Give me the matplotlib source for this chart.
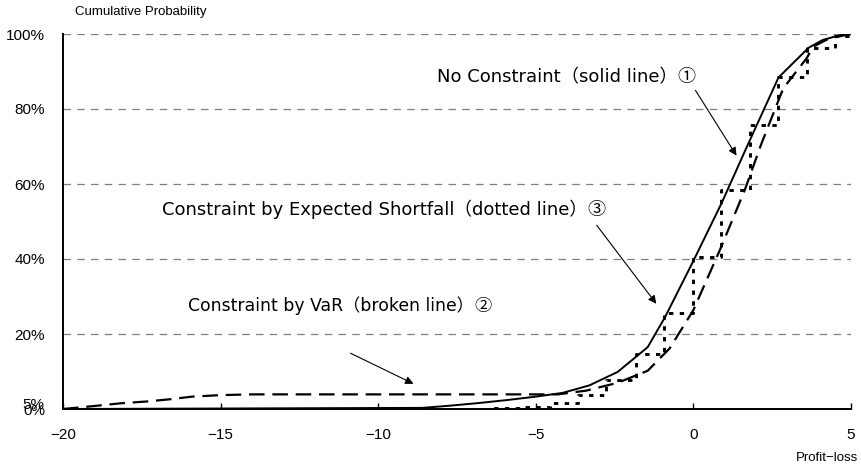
import matplotlib
matplotlib.use("Agg")
import matplotlib.pyplot as plt

plt.rcParams['font.family'] = ['Liberation Sans', 'Noto Sans CJK JP', 'DejaVu Sans']

# --- data ---
# No constraint (solid line)
solid_x = [-20, -8.6, -7.7, -6.8, -5.9, -5.0, -4.15, -3.3, -2.4, -1.45, -0.9, 0.0, 0.9, 1.7, 2.7, 3.65, 4.1, 4.65, 5.0]
solid_y = [0, 0.3, 0.9, 1.6, 2.4, 3.3, 4.3, 6.3, 9.9, 16.5, 24.5, 39.5, 55.0, 70.0, 88.4, 96.3, 98.4, 99.7, 100]

# Constraint by VaR (broken line)
var_x = [-20, -19.0, -18.2, -17.35, -16.6, -15.9, -15.0, -14.0, -4.3, -3.4, -2.4, -1.45, -0.75, 0.0, 0.84, 1.63, 2.16, 2.85, 3.59, 3.8, 4.3, 5.0]
var_y = [0, 0.8, 1.5, 2.0, 2.6, 3.3, 3.7, 3.9, 3.9, 4.9, 7.0, 10.2, 16.2, 26.4, 42.4, 58.4, 70.8, 85.5, 93.5, 96.6, 98.8, 100]

# Constraint by Expected Shortfall (dotted line), step function
es_x = [-20, -6.4, -5.45, -4.56, -3.67, -2.76, -1.83, -0.94, 0.0, 0.89, 1.79, 2.69, 3.6, 4.5, 5.0]
es_y = [0, 0.2, 0.5, 1.7, 3.7, 7.7, 14.8, 25.5, 40.6, 58.4, 75.7, 88.4, 96.3, 99.5, 100]

x_ticks = [-20, -15, -10, -5, 0, 5]
y_ticks = [0, 20, 40, 60, 80, 100]
y_labels = ['0%', '20%', '40%', '60%', '80%', '100%']

label_solid = ['No Constraint', '（solid line）', '①']
label_es = ['Constraint by Expected Shortfall', '（dotted line）', '③']
label_var = ['Constraint by VaR', '（broken line）', '②']

W, H = 862, 469
fig = plt.figure(figsize=(W / 100, H / 100), dpi=100)
ax = fig.add_axes([63 / W, 1 - 409 / H, (851 - 63) / W, (409 - 34) / H])

ax.set_xlim(-20, 5)
ax.set_ylim(0, 100)

for yv in y_ticks[1:]:
    ax.axhline(yv, color='#7f7f7f', lw=0.9, linestyle=(0, (6, 5)), zorder=1)

ax.plot(solid_x, solid_y, color='black', lw=1.4, zorder=3)
ax.plot(var_x, var_y, color='black', lw=1.6, linestyle=(0, (7, 3.5)), zorder=3)
ax.plot(es_x, es_y, color='black', lw=2.1, linestyle=(0, (1.5, 2.2)), drawstyle='steps-post', zorder=3)

for s in ['top', 'right']:
    ax.spines[s].set_visible(False)
for s in ['left', 'bottom']:
    ax.spines[s].set_linewidth(1.4)

ax.set_xticks(x_ticks)
ax.set_xticklabels([f'{v}'.replace('-', '\u2212') for v in x_ticks])
ax.set_yticks(y_ticks)
ax.set_yticklabels(y_labels)
ax.tick_params(axis='x', direction='in', length=4, width=1, labelsize=11, pad=14)
ax.tick_params(axis='y', length=0, labelsize=11, pad=13)

# extra '5%' label overlapping the 0% label
fig.text(44 / W, 1 - 405 / H, '5%', fontsize=11, ha='right', va='center')

fig.text(75 / W, 1 - 12 / H, 'Cumulative Probability', fontsize=9.5, ha='left', va='center')
fig.text(858 / W, 1 - 458 / H, 'Profit\u2212loss', fontsize=9.5, ha='right', va='center')

def px(xp, yp):
    return (xp / W, 1 - yp / H)

renderer = fig.canvas.get_renderer()
latin = ['DejaVu Sans', 'Noto Sans CJK JP']
cjk = ['Noto Sans CJK JP', 'DejaVu Sans']

def seq_text(x0, y_center, parts, size=13):
    fams = [latin, latin, cjk]
    cur = x0
    ybase = y_center + 5
    for s, fam in zip(parts, fams):
        t = fig.text(cur / W, 1 - ybase / H, s, fontsize=size, family=fam, ha='left', va='baseline')
        bb = t.get_window_extent(renderer)
        cur = bb.x1

arrow_kw = dict(arrowstyle='-|>', color='black', lw=0.8, mutation_scale=12)
seq_text(437, 77, label_solid)
ax.annotate('', xy=px(738, 158), xycoords='figure fraction', xytext=px(694, 88), textcoords='figure fraction', arrowprops=arrow_kw)

seq_text(162, 210, label_es)
ax.annotate('', xy=px(658, 306), xycoords='figure fraction', xytext=px(595, 223), textcoords='figure fraction', arrowprops=arrow_kw)

seq_text(188, 306, label_var, size=12.4)
ax.annotate('', xy=px(416, 385), xycoords='figure fraction', xytext=px(348, 352), textcoords='figure fraction', arrowprops=arrow_kw)

fig.savefig('out.png', dpi=100)
